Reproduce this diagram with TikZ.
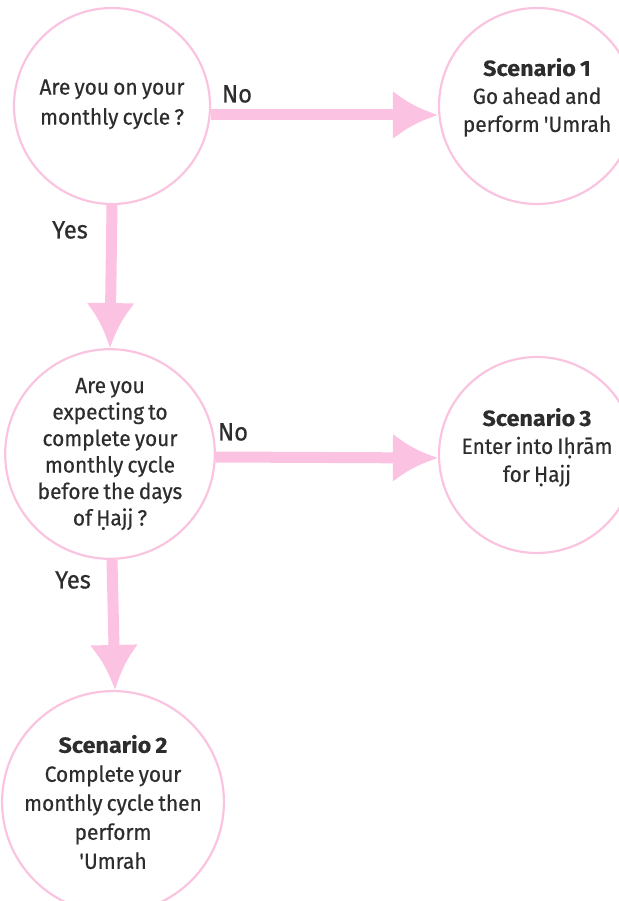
\documentclass[tikz,border=0pt]{standalone}
\usepackage{fontspec}
\newfontfamily\ff{Fira Sans}[FakeStretch=0.95,WordSpace=0.75,FakeBold=0.5,BoldFeatures={FakeStretch=1.06,FakeBold=0.3}]
\usetikzlibrary{arrows.meta}
\definecolor{pinkline}{RGB}{250,196,224}
\definecolor{pinkarrow}{RGB}{252,194,226}
\definecolor{txt}{RGB}{45,45,45}
\begin{document}
\begin{tikzpicture}[x=1pt,y=-1pt,
  bubble/.style={circle,draw=pinkline,line width=2.2pt,minimum size=196pt,inner sep=0pt,
    align=center,text=txt,font=\ff\fontsize{22}{28}\selectfont},
  flow/.style={draw=pinkarrow,line width=11pt,-{Latex[length=45pt,width=49pt]}},
  lbl/.style={text=txt,font=\ff\fontsize{25}{28}\selectfont}]
\useasboundingbox (0,0) rectangle (618,901);
\node[bubble,font=\ff\fontsize{22}{30}\selectfont] (q1) at (112,106) {Are you on your\\monthly cycle ?\\[-22pt]\mbox{}};
\node[bubble] (s1) at (537,106) {\textbf{Scenario 1}\\Go ahead and\\perform 'Umrah\\[-6pt]\mbox{}};
\node[bubble,font=\ff\fontsize{22}{26.5}\selectfont] (q2) at (110,454) {Are you\\expecting to\\complete your\\monthly cycle\\before the days\\of Ḥajj ?};
\node[bubble] (s3) at (537,455) {\textbf{Scenario 3}\\Enter into Iḥrām\\for Ḥajj\\[-8pt]\mbox{}};
\node[bubble,font=\ff\fontsize{22}{29}\selectfont] (s2) at (113,802) {\textbf{Scenario 2}\\Complete your\\monthly cycle then\\perform\\'Umrah};
\draw[flow] ([yshift=-9pt]q1.east) -- ([yshift=-9pt]s1.west);
\draw[flow] ([yshift=-3pt]q2.east) -- ([yshift=-3pt]s3.west);
\draw[flow] (q1.south) -- (q2.north);
\draw[flow] ([xshift=2pt]q2.south) -- ([xshift=2pt]s2.north);
\node[lbl] (no1) at (237,94) {No};
\node[lbl] (yes1) at (70,230) {Yes};
\node[lbl] (no2) at (233,432) {No};
\node[lbl] (yes2) at (73,580) {Yes};
\end{tikzpicture}
\end{document}
